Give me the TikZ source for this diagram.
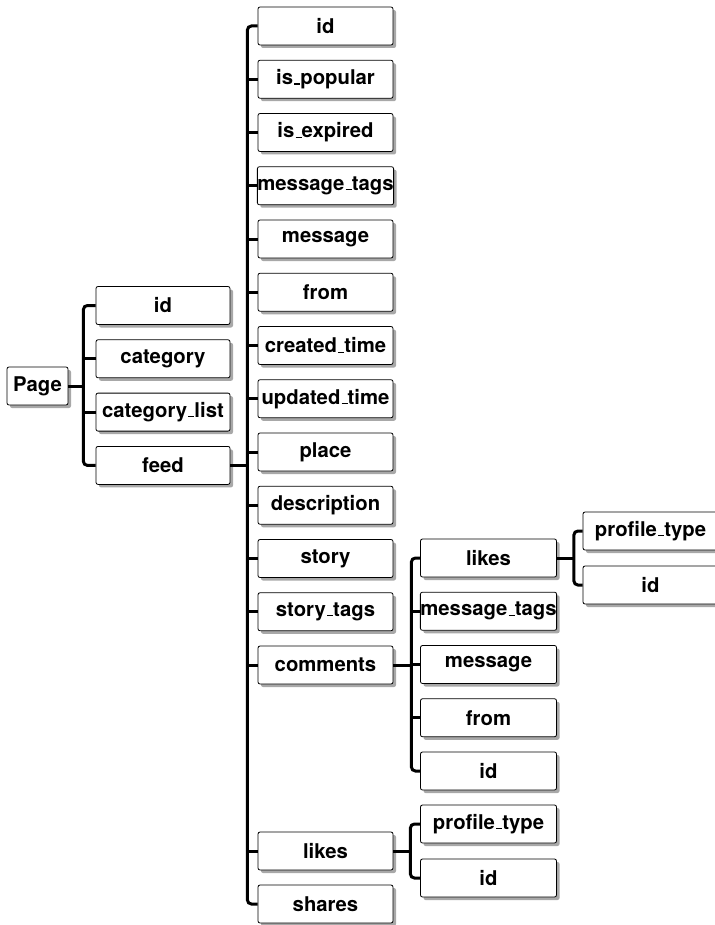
\documentclass[tikz,border=0pt]{standalone}
\usepackage{fontspec}
\setmainfont{TeX Gyre Heros}
\usetikzlibrary{shadows}
% short low rule used as the underscore in field names
\newcommand{\lowbar}{\kern.06em\vbox{\hrule width.3em height 1.3pt}}
\tikzset{
  box/.style={draw=black, line width=0.8pt, rounded corners=2pt, fill=white,
    minimum width=135pt, minimum height=38pt, inner sep=0pt,
    font=\fontsize{20.3}{24}\selectfont\bfseries,
    drop shadow={shadow xshift=3pt, shadow yshift=-3pt, fill=black!40, opacity=0.85}},
  conn/.style={line width=3pt, rounded corners=4pt}
}
\begin{document}
\begin{tikzpicture}[x=1pt, y=-1pt]
\useasboundingbox (0,0) rectangle (714,925);

% root
\node[box, minimum width=61pt] (page) at (37.5,386) {Page};

% first level
\node[box, minimum width=134pt] (a1) at (163,305.5) {id};
\node[box, minimum width=134pt] (a2) at (163,358.8) {category};
\node[box, minimum width=134pt] (a3) at (163,412.1) {category\lowbar list};
\node[box, minimum width=134pt] (a4) at (163,465.4) {feed};

% feed fields
\node[box] (b1)  at (325.5,26)    {id};
\node[box] (b2)  at (325.5,79.25) {is\lowbar popular};
\node[box] (b3)  at (325.5,132.5) {is\lowbar expired};
\node[box] (b4)  at (325.5,185.75){message\lowbar tags};
\node[box] (b5)  at (325.5,239)   {message};
\node[box] (b6)  at (325.5,292.25){from};
\node[box] (b7)  at (325.5,345.5) {created\lowbar time};
\node[box] (b8)  at (325.5,398.75){updated\lowbar time};
\node[box] (b9)  at (325.5,452)   {place};
\node[box] (b10) at (325.5,505.25){description};
\node[box] (b11) at (325.5,558.5) {story};
\node[box] (b12) at (325.5,611.75){story\lowbar tags};
\node[box] (b13) at (325.5,665)   {comments};
\node[box] (b14) at (325.5,851)   {likes};
\node[box] (b15) at (325.5,904)   {shares};

% comment fields
\node[box, minimum width=136pt] (c1) at (488.5,558)   {likes};
\node[box, minimum width=136pt] (c2) at (488.5,611.25){message\lowbar tags};
\node[box, minimum width=136pt] (c3) at (488.5,664.5) {message};
\node[box, minimum width=136pt] (c4) at (488.5,717.75){from};
\node[box, minimum width=136pt] (c5) at (488.5,771)   {id};

% comment likes fields
\node[box] (d1) at (650.5,531) {profile\lowbar type};
\node[box] (d2) at (650.5,585) {id};

% feed likes fields
\node[box, minimum width=136pt] (e1) at (488.5,824) {profile\lowbar type};
\node[box, minimum width=136pt] (e2) at (488.5,878) {id};

% connectors: trunk from first to last child, a stub from the parent,
% and straight stubs to the children in between
\coordinate (tp) at ([xshift=15pt]page.east);
\draw[conn] (a1.west) -| (tp) |- (a4.west);
\draw[conn] (page.east) -- (tp);
\foreach \c in {a2,a3}
  \draw[conn] (tp |- \c.west) -- (\c.west);

\coordinate (tf) at ([xshift=17pt]a4.east);
\draw[conn] (b1.west) -| (tf) |- (b15.west);
\draw[conn] (a4.east) -- (tf);
\foreach \c in {b2,b3,b4,b5,b6,b7,b8,b9,b10,b11,b12,b13,b14}
  \draw[conn] (tf |- \c.west) -- (\c.west);

\coordinate (tc) at ([xshift=18pt]b13.east);
\draw[conn] (c1.west) -| (tc) |- (c5.west);
\draw[conn] (b13.east) -- (tc);
\foreach \c in {c2,c3,c4}
  \draw[conn] (tc |- \c.west) -- (\c.west);

\coordinate (tl) at ([xshift=17pt]c1.east);
\draw[conn] (d1.west) -| (tl) |- (d2.west);
\draw[conn] (c1.east) -- (tl);

\coordinate (tk) at ([xshift=17pt]b14.east);
\draw[conn] (e1.west) -| (tk) |- (e2.west);
\draw[conn] (b14.east) -- (tk);
\end{tikzpicture}
\end{document}
